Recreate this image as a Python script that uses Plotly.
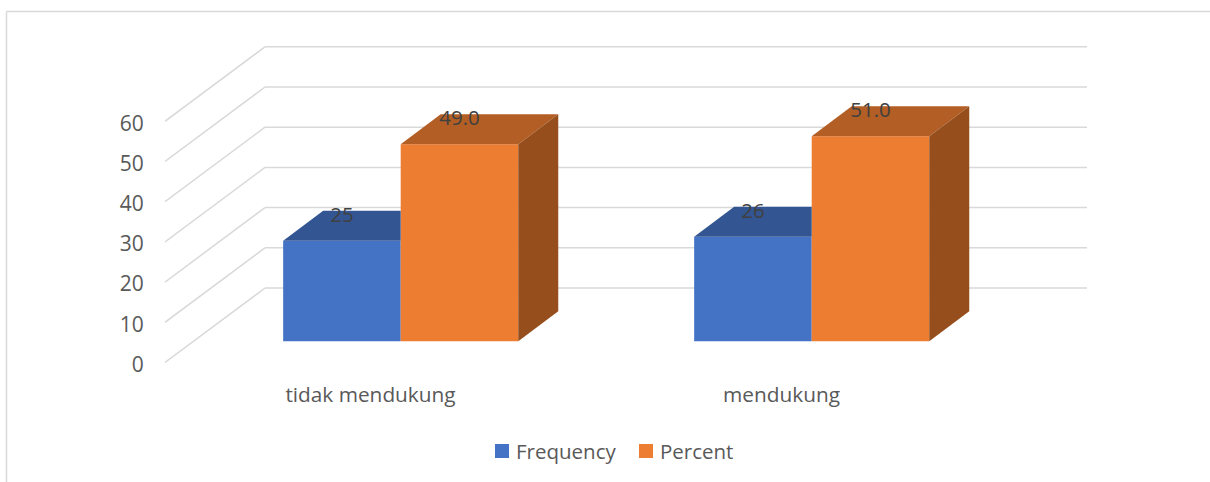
import plotly.graph_objects as go

categories = ["tidak mendukung", "mendukung"]
series_names = ["Frequency", "Percent"]
frequency = [25, 26]
percent = [49.0, 51.0]
freq_labels = ["25", "26"]
pct_labels = ["49.0", "51.0"]
y_ticks = [0, 10, 20, 30, 40, 50, 60]

W, H = 1210, 482
PX_X = 411.0            # pixels per category
PX_Y = 4.02             # pixels per value unit
LEFT, RIGHT = 165, 1087
TOP, BOTTOM = 46.0, 374.0
ZERO = 362.5
DX = 100 / PX_X         # oblique offset of full floor depth
DY = 74.5 / PX_Y
D0, D1 = 0.3, 0.7       # bar depth span within the floor
GAP, BW = 0.2145, 0.286

BLUE, BLUE_TOP = "#4472C4", "#335693"
ORANGE, ORANGE_TOP, ORANGE_SIDE = "#ED7D31", "#B25E24", "#964F1C"
GRID = "#D9D9D9"
FONT = "Open Sans"
FS = 20.5


def project(x, y, d):
    return x + d * DX, y + d * DY


fig = go.Figure()

shapes = []
for v in y_ticks:
    bx, by = project(0, v, 1)
    shapes.append(dict(type="line", xref="x", yref="y", layer="below", x0=0, y0=v, x1=bx, y1=by,
                       line=dict(color=GRID, width=1.5)))
    shapes.append(dict(type="line", xref="x", yref="y", layer="below", x0=bx, y0=by, x1=2 + DX, y1=by,
                       line=dict(color=GRID, width=1.5)))

# outer chart frame
pw, ph = RIGHT - LEFT, BOTTOM - TOP
fx = lambda p: (p - LEFT) / pw
fy = lambda p: (BOTTOM - p) / ph
frame = dict(color="#D9D9D9", width=1.5)
shapes.append(dict(type="line", xref="paper", yref="paper", x0=fx(6.5), y0=fy(11.5), x1=fx(W), y1=fy(11.5), line=frame))
shapes.append(dict(type="line", xref="paper", yref="paper", x0=fx(6.5), y0=fy(11.5), x1=fx(6.5), y1=fy(H), line=frame))

# legend keys and labels
annotations = []
for name, color, key_x, text_x in ((series_names[0], BLUE, 495, 515), (series_names[1], ORANGE, 639, 659)):
    shapes.append(dict(type="rect", xref="paper", yref="paper", x0=fx(key_x), x1=fx(key_x + 14),
                       y0=fy(458), y1=fy(444), fillcolor=color, line=dict(width=0)))
    annotations.append(dict(xref="paper", yref="paper", x=fx(text_x), y=fy(450.5), text=name, showarrow=False,
                            xanchor="left", yanchor="middle", xshift=-1,
                            font=dict(family=FONT, size=FS, color="#595959")))

base = project(0, 0, D0)[1] - 1 / PX_Y
xoff = project(0, 0, D0)[0]


def poly(xs, ys, color):
    fig.add_trace(go.Scatter(x=xs, y=ys, mode="lines", fill="toself", fillcolor=color,
                             line=dict(width=0), showlegend=False, hoverinfo="skip"))


cx_f = [i + GAP + BW / 2 + xoff for i in range(2)]
cx_p = [i + GAP + BW * 1.5 + xoff for i in range(2)]

fig.add_trace(go.Bar(x=cx_f, y=frequency, base=[base] * 2, width=BW, name=series_names[0], showlegend=False,
                     marker=dict(color=BLUE, line=dict(width=0))))
fig.add_trace(go.Bar(x=cx_p, y=percent, base=[base] * 2, width=BW, name=series_names[1], showlegend=False,
                     marker=dict(color=ORANGE, line=dict(width=0))))

shift_x = (D1 - D0) * DX
shift_y = (D1 - D0) * DY
for i in range(2):
    # blue top, cut where the orange front face hides it
    l, r = cx_f[i] - BW / 2, cx_f[i] + BW / 2
    t = base + frequency[i]
    poly([l, r, r, l + shift_x, l], [t, t, t + shift_y, t + shift_y, t], BLUE_TOP)
    # orange top and side
    l, r = cx_p[i] - BW / 2, cx_p[i] + BW / 2
    t = base + percent[i]
    poly([l, r, r + shift_x, l + shift_x, l], [t, t, t + shift_y, t + shift_y, t], ORANGE_TOP)
    poly([r, r + shift_x, r + shift_x, r, r],
         [base, base + shift_y, t + shift_y, t, base], ORANGE_SIDE)

label_lift = 24 / PX_Y
for xs, vals, labels in ((cx_f, frequency, freq_labels), (cx_p, percent, pct_labels)):
    fig.add_trace(go.Scatter(x=xs, y=[base + v + label_lift for v in vals], text=labels, mode="text",
                             textposition="middle center", showlegend=False, hoverinfo="skip",
                             textfont=dict(family=FONT, size=FS, color="#404040")))

fig.update_layout(
    width=W, height=H, autosize=False,
    paper_bgcolor="white", plot_bgcolor="white",
    margin=dict(l=LEFT, r=W - RIGHT, t=TOP, b=H - BOTTOM, pad=0),
    barmode="overlay", shapes=shapes, annotations=annotations, showlegend=False,
    font=dict(family=FONT, size=FS, color="#595959"),
    xaxis=dict(range=[0, 2 + DX], tickvals=[0.5, 1.5], ticktext=categories, showgrid=False, zeroline=False,
               showline=False, ticks="outside", ticklen=2, tickcolor="white", tickfont=dict(size=20.8)),
    yaxis=dict(range=[(ZERO - BOTTOM) / PX_Y, (ZERO - TOP) / PX_Y], tickvals=y_ticks, showgrid=False,
               zeroline=False, showline=False, ticks="outside", ticklen=16, tickcolor="white",
               ticklabelshift=2, tickfont=dict(size=21)),
)
fig.write_html("out.html", post_script="document.body.style.margin='0';", config={"displayModeBar": False})
